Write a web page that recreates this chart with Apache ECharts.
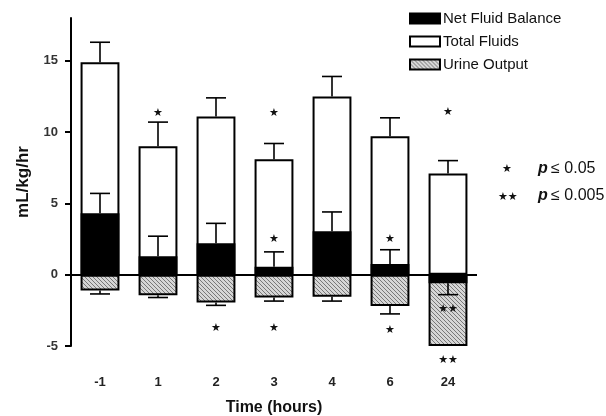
<!DOCTYPE html>
<html><head><meta charset="utf-8">
<script src="https://cdn.jsdelivr.net/npm/echarts@6/dist/echarts.min.js"></script>
<style>html,body{margin:0;padding:0;background:#fff}#c{width:606px;height:416px}</style>
</head><body><div id="c"></div>
<script>
// ---- data ----
var categories = ['-1', '1', '2', '3', '4', '6', '24'];
var totalFluids = [14.9, 9.0, 11.1, 8.1, 12.5, 9.7, 7.1];
var totalSem = [1.4, 1.7, 1.3, 1.1, 1.4, 1.3, 0.9];
var netBalance = [4.3, 1.3, 2.2, 0.55, 3.05, 0.75, -0.6];
var netSem = [1.4, 1.4, 1.4, 1.05, 1.35, 1.0, 0.8];
var urineOutput = [-1.1, -1.45, -1.95, -1.6, -1.55, -2.2, -5.0];
var urineSem = [0.25, 0.15, 0.2, 0.25, 0.3, 0.55, 0];
var yTicks = [-5, 0, 5, 10, 15];
// significance marks: [category index, y value, text]
var starMarks = [
  [1, 11.6, '★'], [3, 11.6, '★'], [6, 11.65, '★'],
  [3, 2.75, '★'], [5, 2.75, '★'],
  [2, -3.5, '★'], [3, -3.5, '★'], [5, -3.58, '★'],
  [6, -2.1, '★★'], [6, -5.7, '★★']
];

var FONT = 'Liberation Sans, Arial, Helvetica, sans-serif';

function hatch() {
  var n = 4, cv = document.createElement('canvas');
  cv.width = n; cv.height = n;
  var ctx = cv.getContext('2d');
  var img = ctx.createImageData(n, n);
  for (var y = 0; y < n; y++) for (var x = 0; x < n; x++) {
    var k = (y * n + x) * 4;
    var dark = ((x - y + n) % n) === 0;
    var v = dark ? 120 : 214;
    img.data[k] = v; img.data[k + 1] = v; img.data[k + 2] = v; img.data[k + 3] = 255;
  }
  ctx.putImageData(img, 0, 0);
  return { image: cv, repeat: 'repeat' };
}

function errData(vals, sems) {
  return vals.map(function (v, i) { return [i, v, sems[i]]; });
}

function errRender(params, api) {
  var i = api.value(0), v = api.value(1), s = api.value(2);
  if (!s) return null;
  var dir = v >= 0 ? 1 : -1;
  var p0 = api.coord([i, v]);
  var p1 = api.coord([i, v + dir * s]);
  var hw = 10;
  var st = { stroke: '#000', lineWidth: 1.6 };
  return {
    type: 'group',
    children: [
      { type: 'line', shape: { x1: p0[0], y1: p0[1], x2: p1[0], y2: p1[1] }, style: st },
      { type: 'line', shape: { x1: p1[0] - hw, y1: p1[1], x2: p1[0] + hw, y2: p1[1] }, style: st }
    ]
  };
}

var chart = echarts.init(document.getElementById('c'), null, { renderer: 'canvas' });
var barBorder = { borderColor: '#000', borderWidth: 2 };
var pRich = {
  i: { fontStyle: 'italic', fontWeight: 'bold', fontSize: 16, fontFamily: FONT, fill: '#111' },
  n: { fontSize: 16, fontFamily: FONT, fill: '#111' }
};

chart.setOption({
  animation: false,
  backgroundColor: '#fff',
  grid: { left: 71, top: 18, width: 406, height: 328, containLabel: false, outerBoundsMode: 'none' },
  legend: {
    orient: 'vertical', left: 404, top: 6,
    itemWidth: 30, itemHeight: 10, itemGap: 8,
    icon: 'rect',
    data: ['Net Fluid Balance', 'Total Fluids', 'Urine Output'],
    textStyle: { fontFamily: FONT, fontSize: 15, color: '#111', padding: [0, 0, 0, -2] },
    selectedMode: false
  },
  xAxis: {
    type: 'category', data: categories,
    axisLine: { show: false }, axisTick: { show: false },
    axisLabel: { margin: 30, fontFamily: FONT, fontSize: 13, fontWeight: 'bold', color: '#222' },
    name: 'Time (hours)', nameLocation: 'middle', nameGap: 54,
    nameTextStyle: { fontFamily: FONT, fontSize: 16, fontWeight: 'bold', color: '#111' }
  },
  yAxis: {
    type: 'value', min: -5, max: 18, interval: 5,
    axisLine: { show: true, lineStyle: { color: '#000', width: 2 } },
    axisTick: { show: true, length: 6, lineStyle: { color: '#000', width: 2 }, customValues: yTicks },
    axisLabel: { margin: 13, fontFamily: FONT, fontSize: 13, fontWeight: 'bold', color: '#333', customValues: yTicks },
    splitLine: { show: false },
    name: 'mL/kg/hr', nameLocation: 'middle', nameRotate: 90, nameGap: 39,
    nameTextStyle: { fontFamily: FONT, fontSize: 17, fontWeight: 'bold', color: '#111' }
  },
  series: [
    {
      name: 'Total Fluids', type: 'bar', data: totalFluids, barWidth: '67%', barGap: '-100%',
      itemStyle: Object.assign({ color: '#fff' }, barBorder), z: 2,
      markLine: {
        silent: true, symbol: 'none', label: { show: false },
        lineStyle: { color: '#000', width: 2, type: 'solid' },
        data: [{ yAxis: 0 }]
      }
    },
    {
      name: 'Urine Output', type: 'bar', data: urineOutput, barWidth: '67%', barGap: '-100%',
      itemStyle: Object.assign({ color: hatch() }, barBorder), z: 3
    },
    {
      name: 'Net Fluid Balance', type: 'bar', data: netBalance, barWidth: '67%', barGap: '-100%',
      itemStyle: Object.assign({ color: '#000' }, barBorder), z: 4
    },
    { type: 'custom', renderItem: errRender, data: errData(totalFluids, totalSem), z: 5, silent: true },
    { type: 'custom', renderItem: errRender, data: errData(netBalance, netSem), z: 5, silent: true },
    { type: 'custom', renderItem: errRender, data: errData(urineOutput, urineSem), z: 5, silent: true },
    {
      type: 'custom', z: 6, silent: true, clip: false, data: starMarks,
      renderItem: function (params, api) {
        var p = api.coord([api.value(0), api.value(1)]);
        return { type: 'text', style: { text: starMarks[params.dataIndex][2], x: p[0], y: p[1] + 4,
          align: 'center', verticalAlign: 'middle', fill: '#111', font: '11px DejaVu Sans' } };
      }
    }
  ],
  graphic: [
    { type: 'text', left: 502, top: 164, style: { text: '★', fill: '#111', font: '11px DejaVu Sans' } },
    { type: 'text', left: 498, top: 192, style: { text: '★★', fill: '#111', font: '11px DejaVu Sans' } },
    { type: 'text', left: 538, top: 161, style: { rich: pRich, text: '{i|p} {n|≤ 0.05}' } },
    { type: 'text', left: 538, top: 188, style: { rich: pRich, text: '{i|p} {n|≤ 0.005}' } }
  ]
});
</script>
</body></html>
